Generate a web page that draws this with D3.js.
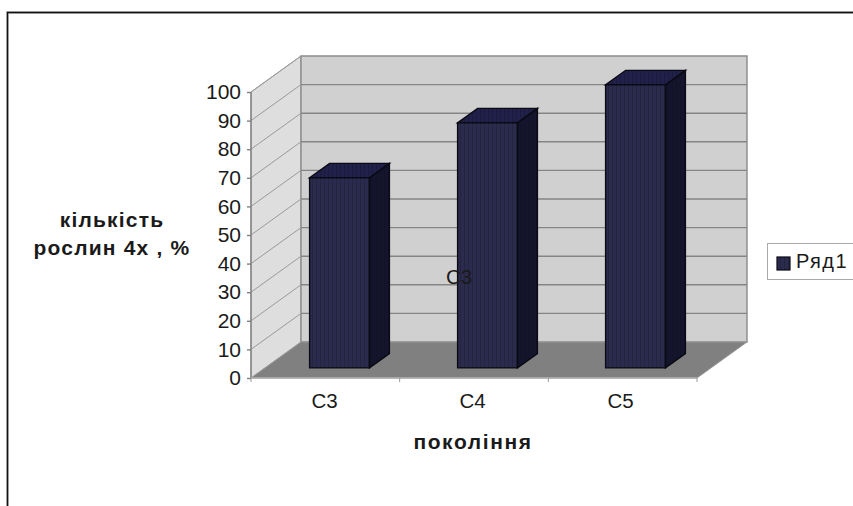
<!DOCTYPE html>
<html>
<head>
<meta charset="utf-8">
<script src="https://cdnjs.cloudflare.com/ajax/libs/d3/7.8.5/d3.min.js"></script>
<style>
html,body{margin:0;padding:0;background:#fff;overflow:hidden}
text{font-family:"Liberation Sans",Arial,sans-serif;fill:#1a1a1a}
</style>
</head>
<body>
<svg id="chart" width="853" height="506"></svg>
<script>
const categories = ["С3", "С4", "С5"];
const seriesValues = [66.5, 85.7, 99];
const seriesName = "Ряд1";
const yTicks = [0, 10, 20, 30, 40, 50, 60, 70, 80, 90, 100];
const yTitleLines = ["кількість", "рослин 4х , %"];
const xTitle = "покоління";
const strayLabel = "С3";

const svg = d3.select("#chart");

// Front plane of the 3D box, plus the vector that carries a point to the back wall
const x = d3.scaleBand().domain(categories).range([251.5, 695.5]).paddingInner(0.596).paddingOuter(0.298);
const xEdge = d3.scaleLinear().domain([0, categories.length]).range([251, 697]);
const y = d3.scaleLinear().domain([0, 100]).range([378, 92]);
const depth = { dx: 50, dy: -36 };
const barDepth = [0.28, 0.68];

const pt = (px, py, d = 0) => [px + depth.dx * d, py + depth.dy * d];
const poly = pts => d3.line()(pts) + "Z";

// Pinstripe fill used on bar faces and the legend swatch
const defs = svg.append("defs");
const faces = [["front", "#2b2b4e", "#24243f"], ["top", "#20204a", "#1b1b3e"], ["side", "#14142c", "#121228"]];
faces.forEach(([id, a, b]) => {
  const p = defs.append("pattern").attr("id", "fill-" + id)
    .attr("patternUnits", "userSpaceOnUse").attr("width", 4).attr("height", 4);
  p.append("rect").attr("width", 4).attr("height", 4).attr("fill", a);
  p.append("rect").attr("width", 1).attr("height", 4).attr("fill", b);
});

// Outer frame, open on the right and bottom
svg.append("path").attr("d", "M7.5,506V12.5H853").attr("fill", "none")
  .attr("stroke", "#c4c4c4").attr("stroke-width", 3);
svg.append("path").attr("d", "M7.5,506V12.5H853").attr("fill", "none")
  .attr("stroke", "#111").attr("stroke-width", 1.4);

const x0 = xEdge(0), x1 = xEdge(categories.length), y0 = y(0), yT = y(100);
const wallStroke = "#8a8a8a";

// Side wall, back wall, floor
svg.append("path").attr("d", poly([pt(x0, y0), pt(x0, yT), pt(x0, yT, 1), pt(x0, y0, 1)]))
  .attr("fill", "#dedede").attr("stroke", "#9a9a9a");
svg.append("path").attr("d", poly([pt(x0, y0, 1), pt(x0, yT, 1), pt(x1, yT, 1), pt(x1, y0, 1)]))
  .attr("fill", "#d0d0d0").attr("stroke", wallStroke).attr("stroke-width", 1.4);
svg.append("path").attr("d", poly([pt(x0, y0), pt(x0, y0, 1), pt(x1, y0, 1), pt(x1, y0)]))
  .attr("fill", "#808080").attr("stroke", "#9a9a9a");

// Gridlines run up the side wall and across the back
const grid = svg.append("g").attr("fill", "none");
yTicks.filter(t => t > 0).forEach(t => {
  grid.append("path").attr("d", d3.line()([pt(x0, y(t)), pt(x0, y(t), 1)]))
    .attr("stroke", "#9a9a9a");
  if (t < 100) grid.append("path").attr("d", d3.line()([pt(x0, y(t), 1), pt(x1, y(t), 1)]))
    .attr("stroke", "#858585").attr("stroke-width", 1.4);
});

// Value axis
const yAxis = svg.append("g").attr("transform", `translate(${x0},0)`)
  .call(d3.axisLeft(y).tickValues(yTicks).tickSize(4).tickPadding(6));
yAxis.selectAll("path,line").attr("stroke", "#808080").attr("stroke-width", 1.4);
yAxis.selectAll("text").attr("font-size", 21).attr("font-family", null);
yAxis.select(".domain").attr("d", `M0,${y0}V${yT}`);

// Category axis, with ticks between categories
svg.append("path").attr("d", d3.line()([[x0, y0], [x1, y0]])).attr("stroke", "#b0b0b0").attr("stroke-width", 1.4);
d3.range(categories.length + 1).forEach(i => {
  svg.append("path").attr("d", d3.line()([[xEdge(i), y0], [xEdge(i), y0 + 4]])).attr("stroke", "#999");
});
svg.append("g").selectAll("text").data(categories).join("text")
  .attr("x", d => x(d) + x.bandwidth() / 2 - 1)
  .attr("y", 408).attr("text-anchor", "middle").attr("font-size", 20.5).text(d => d);

// Bars
const bars = svg.append("g").selectAll("g").data(categories).join("g");
bars.each(function (c, i) {
  const g = d3.select(this);
  const l = x(c), r = l + x.bandwidth();
  const h = y(seriesValues[i]) - y0;
  const [df, db] = barDepth;
  const shift = (px, d, v) => pt(px, y0 + (v ? h : 0), d);
  const draw = (pts, id) => g.append("path").attr("d", poly(pts))
    .attr("fill", `url(#fill-${id})`).attr("stroke", "#0a0a14").attr("stroke-width", 1.4);
  draw([shift(r, df, 0), shift(r, db, 0), shift(r, db, 1), shift(r, df, 1)], "side");
  draw([shift(l, df, 1), shift(r, df, 1), shift(r, db, 1), shift(l, db, 1)], "top");
  draw([shift(l, df, 0), shift(r, df, 0), shift(r, df, 1), shift(l, df, 1)], "front");
});

// Axis titles
svg.append("g").selectAll("text").data(yTitleLines).join("text")
  .attr("x", 112).attr("y", (d, i) => 227 + i * 28).attr("text-anchor", "middle")
  .attr("font-weight", "bold").attr("font-size", 21).attr("letter-spacing", 1.2).text(d => d);
svg.append("text").attr("x", 473).attr("y", 449).attr("text-anchor", "middle")
  .attr("font-weight", "bold").attr("font-size", 21).attr("letter-spacing", 1.6).text(xTitle);

// Free-standing label sitting over the second bar
svg.append("text").attr("x", 459).attr("y", 284).attr("text-anchor", "middle")
  .attr("font-size", 20.5).text(strayLabel);

// Legend
const legend = svg.append("g");
legend.append("rect").attr("x", 767.5).attr("y", 243.5).attr("width", 95).attr("height", 36)
  .attr("fill", "#fff").attr("stroke", "#aaa");
legend.append("rect").attr("x", 777).attr("y", 257).attr("width", 13).attr("height", 13)
  .attr("fill", "url(#fill-front)").attr("stroke", "#0a0a14").attr("stroke-width", 1.2);
legend.append("text").attr("x", 796).attr("y", 268).attr("font-size", 20)
  .attr("letter-spacing", 1.4).text(seriesName);
</script>
</body>
</html>
